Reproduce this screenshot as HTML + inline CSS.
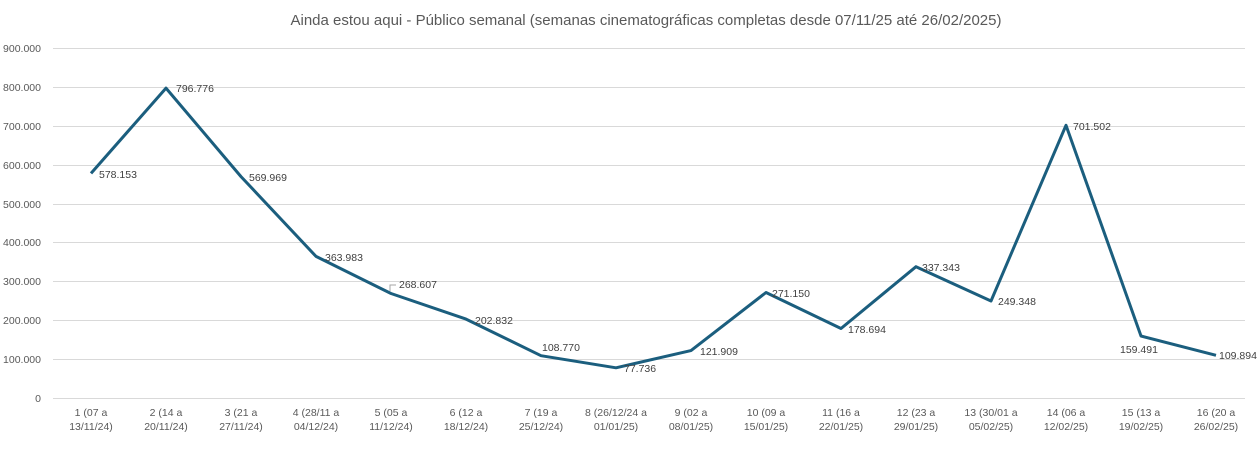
<!DOCTYPE html>
<html><head><meta charset="utf-8"><style>
body{margin:0;background:#fff;}
svg{display:block;font-family:"Liberation Sans",sans-serif;}
</style></head><body>
<svg width="1259" height="449" viewBox="0 0 1259 449">
<text x="646" y="25" text-anchor="middle" font-size="15" fill="#595959">Ainda estou aqui - Público semanal (semanas cinematográficas completas desde 07/11/25 até 26/02/2025)</text>
<g stroke="#d9d9d9" stroke-width="1">
<line x1="53" x2="1245" y1="48.5" y2="48.5"/>
<line x1="53" x2="1245" y1="87.5" y2="87.5"/>
<line x1="53" x2="1245" y1="126.5" y2="126.5"/>
<line x1="53" x2="1245" y1="165.5" y2="165.5"/>
<line x1="53" x2="1245" y1="204.5" y2="204.5"/>
<line x1="53" x2="1245" y1="242.5" y2="242.5"/>
<line x1="53" x2="1245" y1="281.5" y2="281.5"/>
<line x1="53" x2="1245" y1="320.5" y2="320.5"/>
<line x1="53" x2="1245" y1="359.5" y2="359.5"/>
<line x1="53" x2="1245" y1="398.5" y2="398.5"/>
</g>
<g font-size="10.5" fill="#595959" text-anchor="end">
<text x="41" y="52">900.000</text><text x="41" y="91">800.000</text><text x="41" y="130">700.000</text>
<text x="41" y="169">600.000</text><text x="41" y="208">500.000</text><text x="41" y="246">400.000</text>
<text x="41" y="285">300.000</text><text x="41" y="324">200.000</text><text x="41" y="363">100.000</text>
<text x="41" y="402">0</text>
</g>
<g font-size="10.5" fill="#595959" text-anchor="middle">
<text x="91" y="416">1 (07 a</text><text x="91" y="430">13/11/24)</text>
<text x="166" y="416">2 (14 a</text><text x="166" y="430">20/11/24)</text>
<text x="241" y="416">3 (21 a</text><text x="241" y="430">27/11/24)</text>
<text x="316" y="416">4 (28/11 a</text><text x="316" y="430">04/12/24)</text>
<text x="391" y="416">5 (05 a</text><text x="391" y="430">11/12/24)</text>
<text x="466" y="416">6 (12 a</text><text x="466" y="430">18/12/24)</text>
<text x="541" y="416">7 (19 a</text><text x="541" y="430">25/12/24)</text>
<text x="616" y="416">8 (26/12/24 a</text><text x="616" y="430">01/01/25)</text>
<text x="691" y="416">9 (02 a</text><text x="691" y="430">08/01/25)</text>
<text x="766" y="416">10 (09 a</text><text x="766" y="430">15/01/25)</text>
<text x="841" y="416">11 (16 a</text><text x="841" y="430">22/01/25)</text>
<text x="916" y="416">12 (23 a</text><text x="916" y="430">29/01/25)</text>
<text x="991" y="416">13 (30/01 a</text><text x="991" y="430">05/02/25)</text>
<text x="1066" y="416">14 (06 a</text><text x="1066" y="430">12/02/25)</text>
<text x="1141" y="416">15 (13 a</text><text x="1141" y="430">19/02/25)</text>
<text x="1216" y="416">16 (20 a</text><text x="1216" y="430">26/02/25)</text>
</g>
<polyline fill="none" stroke="#1b5e7e" stroke-width="3" stroke-linejoin="round" points="91,173.4 166,88.1 241,176.6 316,256.4 391,293.5 466,319.1 541,355.7 616,367.8 691,350.6 766,292.5 841,328.5 916,266.7 991,301.0 1066,125.3 1141,336.0 1216,355.3"/>
<path d="M390,291 L390,285 L396,285" fill="none" stroke="#a6a6a6" stroke-width="1"/>
<g font-size="10.5" fill="#404040">
<text x="99" y="178">578.153</text>
<text x="176" y="92">796.776</text>
<text x="249" y="181">569.969</text>
<text x="325" y="261">363.983</text>
<text x="399" y="288">268.607</text>
<text x="475" y="324">202.832</text>
<text x="542" y="351">108.770</text>
<text x="624" y="372">77.736</text>
<text x="700" y="355">121.909</text>
<text x="772" y="297">271.150</text>
<text x="848" y="333">178.694</text>
<text x="922" y="271">337.343</text>
<text x="998" y="305">249.348</text>
<text x="1073" y="130">701.502</text>
<text x="1120" y="353">159.491</text>
<text x="1219" y="359">109.894</text>
</g>
</svg>
</body></html>
